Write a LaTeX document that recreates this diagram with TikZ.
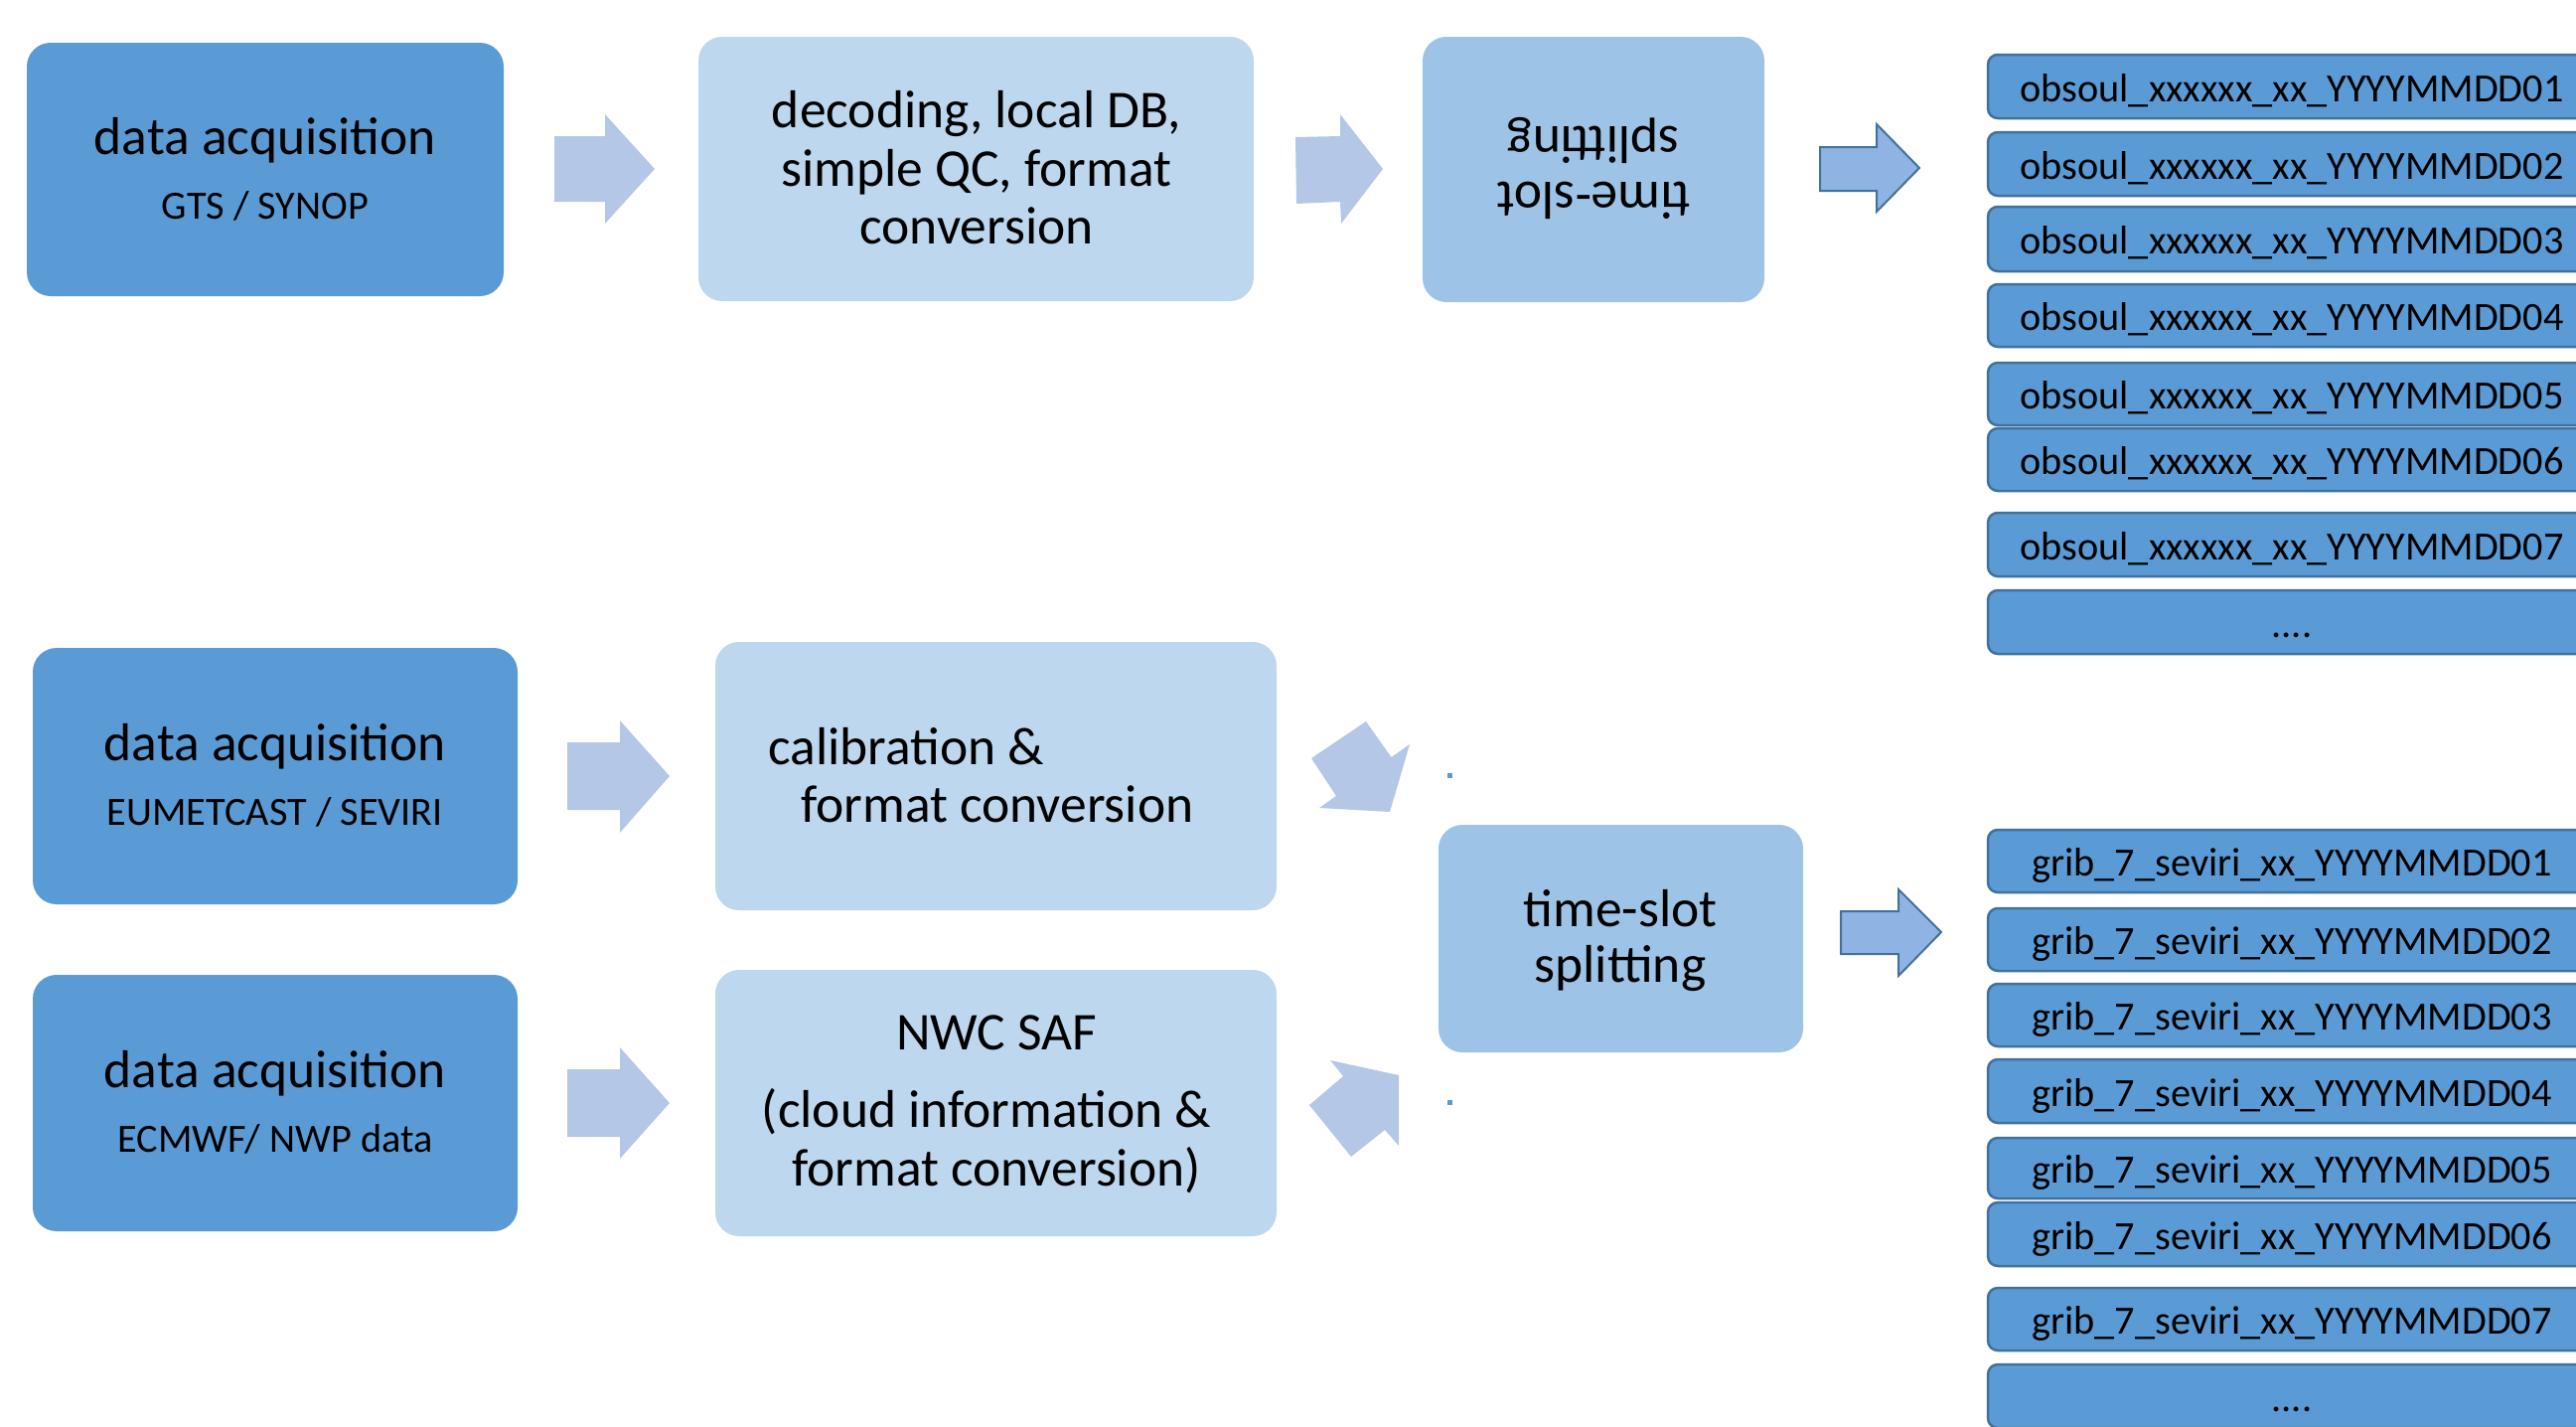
\documentclass[tikz,border=0pt]{standalone}
\usepackage{fontspec}
\setmainfont{Carlito}
\definecolor{cA}{HTML}{5B9BD5}
\definecolor{cB}{HTML}{BDD7EE}
\definecolor{cC}{HTML}{9DC3E6}
\definecolor{cArr}{HTML}{B4C7E7}
\definecolor{cArrO}{HTML}{8FB4E3}
\definecolor{cLine}{HTML}{41719C}
\tikzset{
  bigbox/.style={rounded corners=24pt, inner sep=0pt},
  big/.style={font=\fontsize{53.5}{60}\selectfont, inner sep=0pt},
  small/.style={font=\fontsize{40.3}{48}\selectfont, inner sep=0pt},
  listbox/.style={fill=cA, draw=cLine, line width=2.5pt, rounded corners=10pt,
    minimum width=612pt, inner sep=0pt, text height=30pt, text depth=0pt,
    font=\fontsize{40.3}{48}\selectfont},
  blockarrow/.style={fill=cArr},
  outarrow/.style={fill=cArrO, draw=cLine, line width=2pt, line join=miter},
}
\begin{document}
\begin{tikzpicture}[x=1pt,y=-1pt]
\useasboundingbox (0,0) rectangle (2593,1435);
\begin{scope}
\clip (0,0) rectangle (2593,1435);
% ---------- top row ----------
\node[bigbox, fill=cA, minimum width=480pt, minimum height=255pt] (a1) at (267,170.5) {};
\node[big, anchor=base] (a1t) at (267,155) {data acquisition};
\node[small, anchor=base] (a1s) at (267,220) {GTS / SYNOP};

\node[bigbox, fill=cB, minimum width=559pt, minimum height=266pt] (b1) at (982.5,170) {};
\node[big, anchor=base] (b1t1) at (983,128) {decoding, local DB,};
\node[big, anchor=base] (b1t2) at (983,187) {simple QC, format};
\node[big, anchor=base] (b1t3) at (983,245) {conversion};

\node[bigbox, fill=cC, minimum width=344pt, minimum height=267pt] (c1) at (1604,170.5) {};
\node[big, anchor=base, rotate=180] (c1t1) at (1604,183) {time-slot};
\node[big, anchor=base, rotate=180] (c1t2) at (1604,127) {splitting};

% ---------- bottom rows ----------
\node[bigbox, fill=cA, minimum width=488pt, minimum height=258pt] (a2) at (277,781) {};
\node[big, anchor=base] (a2t) at (277,765) {data acquisition};
\node[small, anchor=base] (a2s) at (277,830) {EUMETCAST / SEVIRI};

\node[bigbox, fill=cA, minimum width=488pt, minimum height=258pt] (a3) at (277,1110) {};
\node[big, anchor=base] (a3t) at (277,1094) {data acquisition};
\node[small, anchor=base] (a3s) at (277,1159) {ECMWF/ NWP data};

\node[bigbox, fill=cB, minimum width=565pt, minimum height=270pt] (b2) at (1002.5,781) {};
\node[big, anchor=base west] (b2t1) at (773,769) {calibration \&};
\node[big, anchor=base west] (b2t2) at (806,827) {format conversion};

\node[bigbox, fill=cB, minimum width=565pt, minimum height=268pt] (b3) at (1002.5,1110) {};
\node[big, anchor=base] (b3t1) at (1003,1056) {NWC SAF};
\node[big, anchor=base] (b3t2) at (993,1134) {(cloud information \&};
\node[big, anchor=base] (b3t3) at (1003,1193) {format conversion)};

\node[bigbox, fill=cC, minimum width=367pt, minimum height=229pt] (c2) at (1631.5,944.5) {};
\node[big, anchor=base] (c2t1) at (1631,932) {time-slot};
\node[big, anchor=base] (c2t2) at (1631,988) {splitting};

% ---------- block arrows ----------
\fill[blockarrow] (558,137) -- (609,137) -- (609,115) -- (659,170) -- (609,225) -- (609,203) -- (558,203) -- cycle;
\fill[blockarrow] (1304,138) -- (1349,137) -- (1349,115) -- (1392,170) -- (1350,225) -- (1349,203) -- (1305,205) -- cycle;
\draw[outarrow] (1832,148) -- (1889,148) -- (1889,125) -- (1932,169) -- (1889,213) -- (1889,192) -- (1832,192) -- cycle;
\fill[blockarrow] (571,747) -- (624,747) -- (624,725) -- (674,781) -- (624,838) -- (624,815) -- (571,815) -- cycle;
\fill[blockarrow] (571,1076) -- (624,1076) -- (624,1054) -- (674,1110) -- (624,1166) -- (624,1144) -- (571,1144) -- cycle;
\draw[outarrow] (1853,917) -- (1911,917) -- (1911,895) -- (1954,938) -- (1911,982) -- (1911,960) -- (1853,960) -- cycle;
% diagonal arrows
\fill[blockarrow] (1375,726) -- (1400.5,762) -- (1419,749) -- (1399,817) -- (1328,813) -- (1345,801) -- (1320,763) -- cycle;
\fill[blockarrow] (1339,1067) -- (1408,1082) -- (1408,1153) -- (1394,1137) -- (1360,1164) -- (1318,1112) -- (1352,1083) -- cycle;
% small dots
\fill[cA] (1456.5,777.5) rectangle (1461.5,782.5);
\fill[cA] (1456.5,1106.5) rectangle (1461.5,1111.5);

% ---------- output lists ----------
\foreach \i/\t/\b in {1/55/119, 2/133/197, 3/208/273, 4/286/349, 5/365/428, 6/431/494, 7/516/580}{
  \node[listbox, minimum height={\b-\t}] (o\i) at (2307,{(\t+\b)/2}) {obsoul\_xxxxxx\_xx\_YYYYMMDD0\i};
}
\node[listbox, minimum height=64pt] (o8) at (2307,626) {....};
\foreach \i/\t/\b in {1/835/898, 2/914/977, 3/990/1053, 4/1066/1130, 5/1145/1206, 6/1210/1274, 7/1296/1359}{
  \node[listbox, minimum height={\b-\t}] (g\i) at (2307,{(\t+\b)/2}) {grib\_7\_seviri\_xx\_YYYYMMDD0\i};
}
\node[listbox, minimum height=64pt] (g8) at (2307,1405) {....};
\end{scope}
\end{tikzpicture}
\end{document}
